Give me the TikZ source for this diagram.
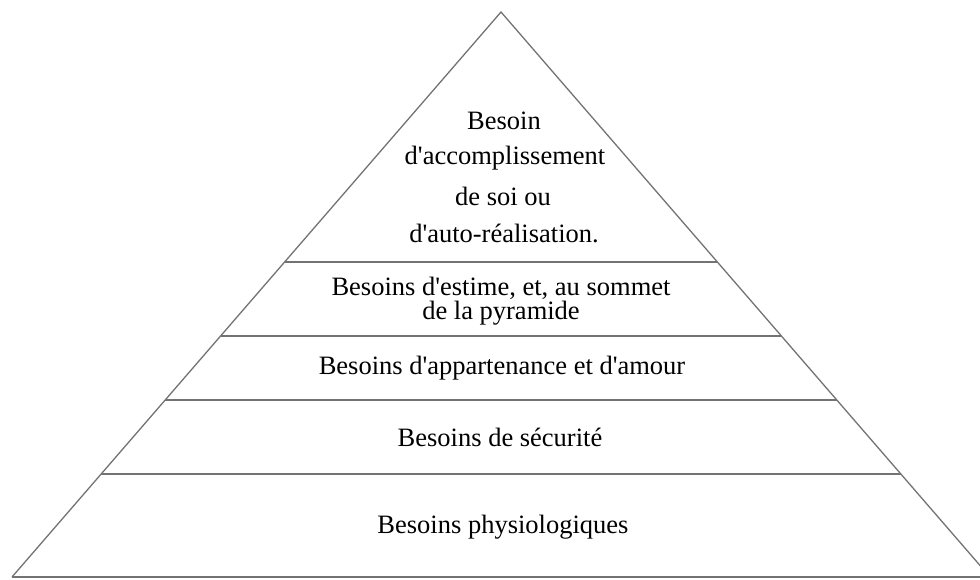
\documentclass[tikz,border=0pt]{standalone}
\usepackage{fontspec}
\setmainfont{Liberation Serif}
\usetikzlibrary{calc}
\newcommand\qs{\textquotesingle}
\begin{document}
\begin{tikzpicture}[x=1pt,y=-1pt,
  edge/.style={draw=black!55,line width=1.3pt},
  lbl/.style={font=\fontsize{26.5}{37}\selectfont,align=center,inner sep=0pt,text=black}]
\useasboundingbox (0,0) rectangle (980,579);
\clip (0,0) rectangle (980,579);
\coordinate (apex) at (501,12);
\coordinate (bl) at (12,577);
\coordinate (br) at (990,577);
\draw[edge,line join=miter] (bl) -- (apex) -- (br);
\draw[edge] (bl) -- (br);
\foreach \y/\n in {262/a,336/b,400/c,474/d}{
  \pgfmathsetmacro{\f}{(\y-12)/565}
  \coordinate (l\n) at ($(apex)!\f!(bl)$);
  \coordinate (r\n) at ($(apex)!\f!(br)$);
  \draw[edge] (l\n) -- (r\n);
}
\node[lbl] (t1a) at (504,121) {Besoin};
\node[lbl] (t1b) at (505,158) {d\qs accomplissement};
\node[lbl] (t1c) at (503,196) {de soi ou};
\node[lbl] (t1d) at (504,233) {d\qs auto-réalisation.};
\node[lbl] (t2a) at (501,288) {Besoins d\qs estime, et, au sommet};
\node[lbl] (t2b) at (501,313) {de la pyramide};
\node[lbl] (t3) at (502,368) {Besoins d\qs appartenance et d\qs amour};
\node[lbl] (t4) at (500,437) {Besoins de sécurité};
\node[lbl] (t5) at (503,527) {Besoins physiologiques};
\end{tikzpicture}
\end{document}
